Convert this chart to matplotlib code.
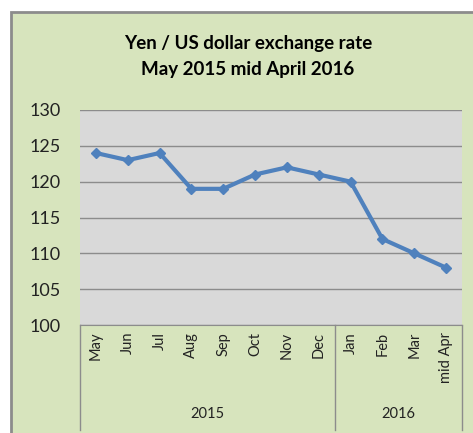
import matplotlib.pyplot as plt
from matplotlib.patches import Rectangle
from matplotlib.lines import Line2D

# Monthly yen per US dollar
months = ['May', 'Jun', 'Jul', 'Aug', 'Sep', 'Oct', 'Nov', 'Dec',
          'Jan', 'Feb', 'Mar', 'mid Apr']
rates = [124, 123, 124, 119, 119, 121, 122, 121, 120, 112, 110, 108]
years = ['2015', '2016']
year_counts = [8, 4]
yticks = [100, 105, 110, 115, 120, 125, 130]

plt.rcParams['font.family'] = ['Lato', 'DejaVu Sans']

W, H = 473, 433
fig = plt.figure(figsize=(W / 100, H / 100), dpi=100)
fig.patch.set_facecolor('white')

# chart area background + frame
fig.patches.append(Rectangle((11 / W, -0.1), 1.2, 1 - 12 / H + 0.1,
                             transform=fig.transFigure, facecolor='#D7E4BD',
                             edgecolor='#8C8C8C', linewidth=2, zorder=-10))

left, right = 80 / W, 462 / W
top, bottom = 1 - 110 / H, 1 - 325 / H
ax = fig.add_axes([left, bottom, right - left, top - bottom])
ax.set_facecolor('#D9D9D9')

x = range(len(months))
ax.plot(x, rates, color='#4F81BD', linewidth=3, marker='D', markersize=5,
        markerfacecolor='#4F81BD', markeredgecolor='#4F81BD', zorder=3)

ax.set_xlim(-0.5, len(months) - 0.5)
ax.set_ylim(100, 130)
ax.set_yticks(yticks)
ax.set_yticklabels([str(v) for v in yticks], fontsize=13, color='#222222')
ax.tick_params(axis='y', length=0, pad=14)
ax.yaxis.grid(True, color='#8C8C8C', linewidth=1)
ax.set_axisbelow(True)
for s in ['left', 'right', 'top']:
    ax.spines[s].set_visible(False)
ax.spines['bottom'].set_color('#8C8C8C')

ax.set_xticks(list(x))
ax.set_xticklabels(months, rotation=90, fontsize=10.5, va='top', color='#222222')
ax.tick_params(axis='x', length=0, pad=5)

# group separators and year labels below axis
trans = ax.get_xaxis_transform()
y_line_bottom = -(430 - 325) / (325 - 110)
pos = -0.5
bounds = [pos]
for n in year_counts:
    pos += n
    bounds.append(pos)
for b in bounds:
    ax.add_line(Line2D([b, b], [0, y_line_bottom], transform=trans,
                       color='#8C8C8C', linewidth=1, clip_on=False))
for i, yr in enumerate(years):
    mid = (bounds[i] + bounds[i + 1]) / 2
    ax.text(mid, -(414 - 325) / (325 - 110), yr, transform=trans,
            ha='center', va='center', fontsize=10.5, color='#222222')

fig.text(248 / W, 1 - 44 / H, 'Yen / US dollar exchange rate',
         ha='center', va='center', fontsize=13.5, fontweight='bold')
fig.text(248 / W, 1 - 70 / H, 'May 2015 mid April 2016',
         ha='center', va='center', fontsize=13.5, fontweight='bold')

fig.savefig('out.png', dpi=100)
